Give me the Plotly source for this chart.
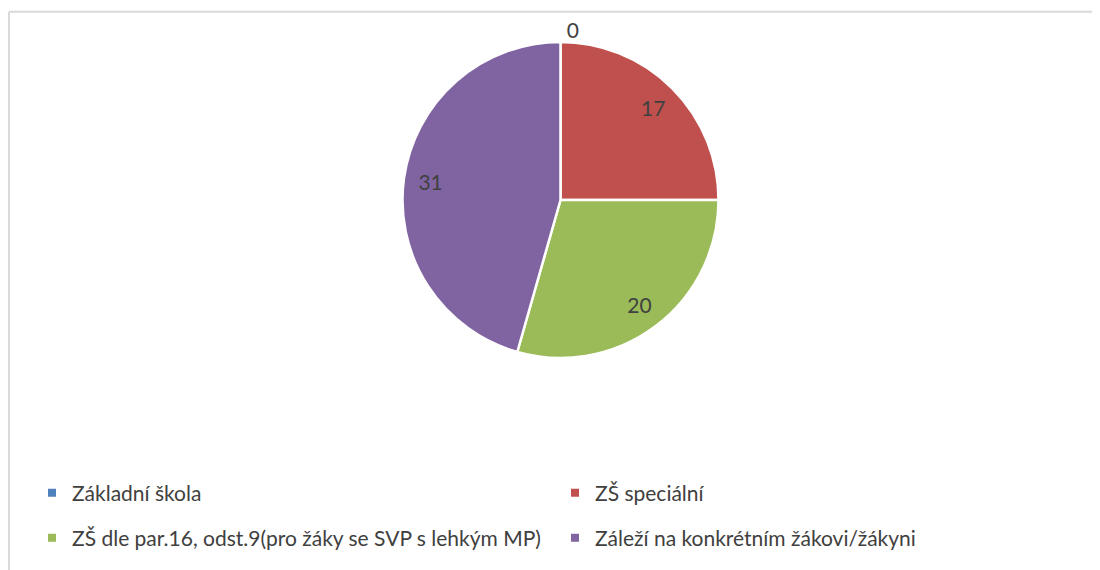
import plotly.graph_objects as go

W, H = 1100, 570
OFF = 8  # the page body adds an 8px margin; figure px = page px - OFF

labels = [
    "Základní škola",
    "ZŠ speciální",
    "ZŠ dle par.16, odst.9(pro žáky se SVP s lehkým MP)",
    "Záleží na konkrétním žákovi/žákyni",
]
values = [0, 17, 20, 31]
colors = ["#4F81BD", "#C0504D", "#9BBB59", "#8064A2"]
text_positions = ["outside", "inside", "inside", "inside"]
legend_rows = ["legend", "legend", "legend2", "legend2"]

FONT = "Lato, Carlito, Calibri, sans-serif"
TXT = "#404040"
FS = 21


def px_x(p):
    return (p - OFF) / W


def px_y(p):
    return 1 - (p - OFF) / H


DOMAIN = dict(x=[px_x(402.5), px_x(718.5)], y=[px_y(358), px_y(42)])

fig = go.Figure()
fig.add_trace(
    go.Pie(
        labels=labels,
        values=values,
        sort=False,
        direction="clockwise",
        rotation=0,
        marker=dict(colors=colors, line=dict(color="white", width=2.5)),
        texttemplate=["%{value}", "", "", ""],
        textposition=text_positions,
        insidetextorientation="horizontal",
        textfont=dict(family=FONT, size=FS, color=TXT),
        outsidetextfont=dict(family=FONT, size=FS, color=TXT),
        domain=DOMAIN,
        showlegend=False,
        hovertemplate="%{label}: %{value}<extra></extra>",
    )
)
# transparent ring carrying the value labels further out, like Excel
fig.add_trace(
    go.Pie(
        labels=labels,
        values=values,
        sort=False,
        direction="clockwise",
        rotation=0,
        hole=0.66,
        marker=dict(colors=["rgba(0,0,0,0)"] * 4, line=dict(width=0)),
        textinfo="value",
        textposition=text_positions,
        insidetextorientation="horizontal",
        textfont=dict(family=FONT, size=FS, color=TXT),
        outsidetextfont=dict(family=FONT, size=FS, color="rgba(0,0,0,0)"),
        domain=DOMAIN,
        showlegend=False,
        hoverinfo="skip",
    )
)
# legend entries (two rows, two columns like the original)
for lab, col, lg in zip(labels, colors, legend_rows):
    fig.add_trace(
        go.Scatter(
            x=[None], y=[None], mode="markers", name=lab,
            marker=dict(symbol="square", size=8, color=col),
            legend=lg, showlegend=True, hoverinfo="skip",
        )
    )

legend_common = dict(
    orientation="h",
    x=px_x(32),
    xanchor="left",
    yanchor="middle",
    entrywidth=478,
    entrywidthmode="pixels",
    font=dict(family=FONT, size=FS, color=TXT),
    traceorder="normal",
    bgcolor="rgba(0,0,0,0)",
)

fig.update_layout(
    width=W,
    height=H,
    margin=dict(l=0, r=0, t=0, b=0),
    paper_bgcolor="white",
    plot_bgcolor="white",
    font=dict(family=FONT, size=FS, color=TXT),
    xaxis=dict(visible=False),
    yaxis=dict(visible=False),
    legend=dict(legend_common, y=px_y(493)),
    legend2=dict(legend_common, y=px_y(538)),
    shapes=[
        dict(type="line", xref="paper", yref="paper", x0=px_x(9), x1=1.0, y0=px_y(11.8), y1=px_y(11.8),
             line=dict(color="#D9D9D9", width=2)),
        dict(type="line", xref="paper", yref="paper", x0=px_x(9), x1=px_x(9), y0=0, y1=px_y(11.8),
             line=dict(color="#D9D9D9", width=2)),
    ],
)

fig.write_html("out.html")
